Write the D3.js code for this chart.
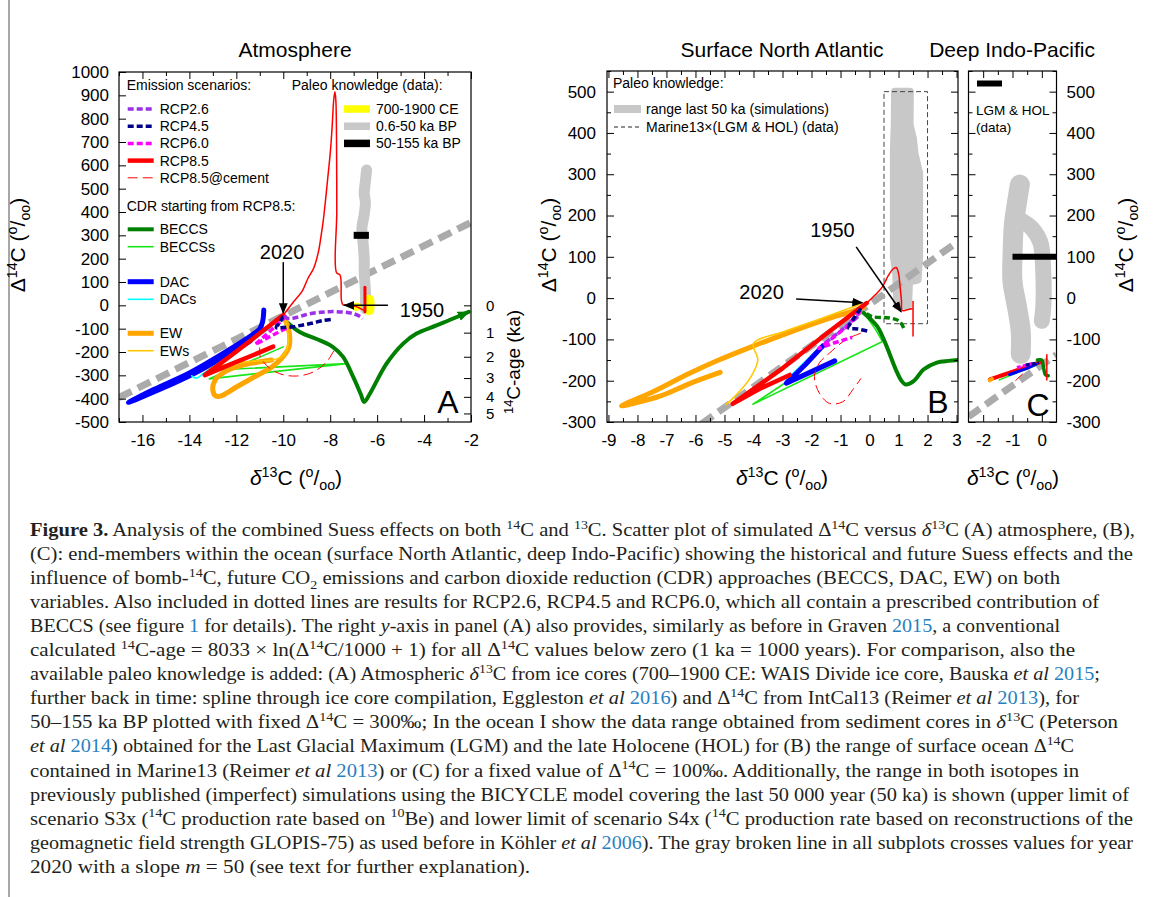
<!DOCTYPE html>
<html>
<head>
<meta charset="utf-8">
<script src="https://cdn.jsdelivr.net/npm/d3@7"></script>
<style>
  body { margin: 0; background: #fff; }
  svg { display: block; font-family: "Liberation Sans", Arial, sans-serif; }
  .cap { font-family: "Liberation Serif", "Times New Roman", serif; font-size: 19.5px; fill: #231f20; }
</style>
</head>
<body>
<script>
// ---------- data: panel A (atmosphere), [d13C, D14C] ----------
const A_xTicks = [-16, -14, -12, -10, -8, -6, -4, -2];
const A_xMinor = [-17, -15, -13, -11, -9, -7, -5, -3];
const A_yTicks = [-500, -400, -300, -200, -100, 0, 100, 200, 300, 400, 500, 600, 700, 800, 900, 1000];
const A_ageTicks = [0, 1, 2, 3, 4, 5];

const A_m50 = [[-17, -395], [-2, 355]];
const A_paleoGray = [[-6.5, -15], [-6.5, 60], [-6.55, 140], [-6.55, 200], [-6.6, 270], [-6.65, 330], [-6.55, 390], [-6.5, 440], [-6.55, 480], [-6.5, 530], [-6.45, 580]];
const A_paleoBlack = [[-7.0, 300], [-6.35, 300]];
const A_paleoYellow = [[-6.35, -18], [-6.35, 22]];
const A_paleoYellow2 = [[-6.9, -6], [-6.85, -6]];
const A_hist = [[-6.55, -22], [-6.9, -5], [-7.2, 3], [-7.45, 2], [-7.52, 20], [-7.58, 130], [-7.73, 140], [-7.72, 400], [-7.73, 700], [-7.76, 880], [-7.8, 915],
  [-7.85, 880], [-7.92, 760], [-8.0, 650], [-8.1, 550], [-8.2, 450], [-8.3, 360], [-8.4, 290], [-8.5, 230], [-8.7, 160], [-8.95, 115], [-9.2, 60], [-9.6, 10], [-10.0, -42]];
const A_histBar = [[-6.52, 78], [-6.52, -28]];
const A_rcp85 = [[-10.0, -42], [-11.0, -120], [-12.0, -198], [-13.34, -299], [-12.2, -251], [-11.3, -214], [-10.43, -177]];
const A_cement = [[-11.0, -180], [-11.0, -214], [-10.72, -257], [-10.15, -293], [-9.44, -303], [-8.73, -286], [-8.16, -243], [-7.8, -186]];
const A_rcp26 = [[-9.95, -45], [-9.85, -55], [-9.58, -55], [-9.2, -45], [-8.87, -36], [-8.4, -30], [-8.0, -27], [-7.45, -29], [-7.0, -36], [-6.7, -50], [-6.62, -58]];
const A_rcp45 = [[-10.0, -45], [-10.15, -75], [-10.3, -95], [-10.0, -95], [-9.6, -92], [-9.2, -85], [-8.8, -77], [-8.3, -65], [-7.9, -60]];
const A_rcp60 = [[-9.85, -45], [-10.5, -105], [-11.2, -168], [-10.5, -130], [-9.8, -95]];
const A_dac = [[-10.83, -20], [-10.88, -70], [-11.0, -100], [-11.3, -125], [-12.3, -190], [-14.0, -290], [-15.5, -360], [-16.6, -416], [-15.3, -362], [-13.8, -292], [-12.5, -218], [-11.4, -152]];
const A_dacs = [[-13.9, -302], [-13.7, -312], [-13.4, -292], [-12.8, -252], [-12.0, -197], [-11.2, -142], [-10.5, -92]];
const A_ew = [[-9.95, -55], [-9.78, -100], [-9.72, -150], [-9.78, -185], [-10.1, -230], [-10.5, -265], [-11.2, -305], [-12.0, -350], [-12.6, -386], [-12.85, -390], [-13.0, -365], [-12.9, -320], [-12.5, -285], [-11.8, -258], [-11.0, -242], [-10.5, -234]];
const A_ews = [[-13.9, -305], [-13.6, -285], [-13.0, -265], [-12.2, -250], [-11.4, -240], [-10.5, -235], [-10.0, -215], [-9.8, -170], [-9.85, -90], [-9.95, -60]];
const A_beccs = [[-9.85, -71], [-9.3, -114], [-8.44, -150], [-7.88, -179], [-7.45, -221], [-7.02, -307], [-6.7, -380], [-6.55, -414], [-6.31, -379], [-5.6, -250], [-4.89, -164], [-4.32, -121], [-3.47, -86], [-2.6, -50], [-2.1, -28]];
const A_beccss = [[-10.0, -178], [-13.15, -315], [-7.3, -250], [-12.7, -276]];

// ---------- data: panel B (surface North Atlantic) ----------
const B_xTicks = [-9, -8, -7, -6, -5, -4, -3, -2, -1, 0, 1, 2, 3];
const B_xMinor = [-8.5, -7.5, -6.5, -5.5, -4.5, -3.5, -2.5, -1.5, -0.5, 0.5, 1.5, 2.5];
const B_yTicks = [-300, -200, -100, 0, 100, 200, 300, 400, 500];
const B_yMinor = [-250, -150, -50, 50, 150, 250, 350, 450, 550];

const B_m50 = [[-5.8, -305], [3.05, 137]];
const B_sim = [[0.88, 500], [1.39, 500], [1.38, 420], [1.5, 385], [1.55, 350], [1.71, 303], [1.71, 100], [1.66, 45], [1.36, 40], [1.33, -18], [0.96, -18], [0.92, 60], [0.84, 100], [0.84, 360], [0.87, 420]];
const B_marine = [[0.5, -62], [2.0, 500]];
const B_ew = [[-0.2, -22], [-0.6, -32], [-1.6, -54], [-2.8, -84], [-4.0, -116], [-5.2, -150], [-6.2, -182], [-7.5, -228], [-8.55, -261], [-8.2, -256], [-7.2, -237], [-6.2, -207], [-5.15, -180]];
const B_ews = [[-0.3, -14], [-1.5, -45], [-3.0, -82], [-4.0, -110], [-3.85, -150], [-4.1, -192], [-4.6, -235], [-4.95, -258]];
const B_rcp85 = [[-0.1, -12], [-1.5, -87], [-3.0, -170], [-4.72, -256], [-3.8, -220], [-2.75, -186]];
const B_hist = [[-0.1, -12], [0.2, 8], [0.45, 28], [0.65, 55], [0.8, 70], [0.92, 74], [1.0, 60], [1.05, 30], [1.1, -5], [1.13, -30], [1.3, -28], [1.47, -26]];
const B_histBar = [[1.5, -8], [1.5, -92]];
const B_cement = [[-0.3, -85], [-0.8, -100], [-1.38, -133], [-1.73, -157], [-1.9, -190], [-1.73, -230], [-1.38, -255], [-0.92, -251], [-0.58, -222], [-0.29, -194]];
const B_beccs = [[-0.2, -36], [0.26, -68], [0.49, -100], [0.72, -140], [0.95, -180], [1.1, -200], [1.24, -209], [1.52, -201], [1.86, -173], [2.32, -156], [2.72, -152], [3.05, -150]];
const B_beccsDash = [[-0.1, -38], [0.1, -45], [0.68, -48], [1.03, -56], [1.2, -76]];
const B_rcp45 = [[-0.3, -25], [-0.55, -50], [-0.72, -72], [-0.4, -75], [0.0, -81]];
const B_rcp60 = [[-0.3, -30], [-0.8, -70], [-1.3, -98], [-1.75, -122], [-1.2, -108], [-0.6, -95]];
const B_rcp26 = [[-0.4, -45], [-1.0, -80], [-1.6, -112]];
const B_dac = [[-1.6, -115], [-2.2, -160], [-2.87, -206], [-2.0, -178], [-1.2, -152]];
const B_dacs = [[-0.6, -55], [-1.7, -118], [-2.9, -200]];
const B_beccss = [[-0.2, -35], [0.2, -75], [0.45, -105], [-4.02, -257], [-2.9, -205]];

// ---------- data: panel C (deep Indo-Pacific) ----------
const C_xTicks = [-2, -1, 0];
const C_xMinor = [-1.5, -0.5];
const C_m50 = [[-2.5, -287], [0.5, -137]];
const C_simLeft = [[-0.75, 275], [-0.85, 230], [-0.95, 180], [-1.0, 100], [-1.0, 40], [-0.85, -20], [-0.72, -80], [-0.72, -135]];
const C_simRight = [[-0.75, 190], [-0.35, 170], [-0.05, 135], [0.05, 60], [0.05, -20], [0.0, -55]];
const C_black = [[-1.0, 100], [0.5, 100]];
const C_beccss = [[-1.45, -198], [-0.1, -160]];
const C_rcp85 = [[-1.77, -197], [-0.05, -155], [-1.4, -188]];
const C_dac = [[-1.1, -185], [-0.5, -170], [-0.2, -160]];
const C_rcp60 = [[-0.85, -168], [-0.3, -158]];
const C_rcp45 = [[-0.55, -162], [-0.1, -156]];
const C_beccs = [[-0.15, -150], [0.0, -150], [0.05, -165], [0.12, -185], [0.22, -188]];
const C_hist = [[0.17, -137], [0.17, -198]];
const C_cement = [[-0.9, -200], [-0.6, -180]];
const C_ew = [[-1.78, -199], [-1.7, -196]];

// ---------- caption ----------
const CAP_LINES = [
  "<b>Figure 3.</b> Analysis of the combined Suess effects on both <sup>14</sup>C and <sup>13</sup>C. Scatter plot of simulated Δ<sup>14</sup>C versus <i>δ</i><sup>13</sup>C (A) atmosphere, (B),",
  "(C): end-members within the ocean (surface North Atlantic, deep Indo-Pacific) showing the historical and future Suess effects and the",
  "influence of bomb-<sup>14</sup>C, future CO<sub>2</sub> emissions and carbon dioxide reduction (CDR) approaches (BECCS, DAC, EW) on both",
  "variables. Also included in dotted lines are results for RCP2.6, RCP4.5 and RCP6.0, which all contain a prescribed contribution of",
  "BECCS (see figure <a>1</a> for details). The right <i>y</i>-axis in panel (A) also provides, similarly as before in Graven <a>2015</a>, a conventional",
  "calculated <sup>14</sup>C-age = 8033 × ln(Δ<sup>14</sup>C/1000 + 1) for all Δ<sup>14</sup>C values below zero (1 ka = 1000 years). For comparison, also the",
  "available paleo knowledge is added: (A) Atmospheric <i>δ</i><sup>13</sup>C from ice cores (700–1900 CE: WAIS Divide ice core, Bauska <i>et al</i> <a>2015</a>;",
  "further back in time: spline through ice core compilation, Eggleston <i>et al</i> <a>2016</a>) and Δ<sup>14</sup>C from IntCal13 (Reimer <i>et al</i> <a>2013</a>), for",
  "50–155 ka BP plotted with fixed Δ<sup>14</sup>C = 300‰; In the ocean I show the data range obtained from sediment cores in <i>δ</i><sup>13</sup>C (Peterson",
  "<i>et al</i> <a>2014</a>) obtained for the Last Glacial Maximum (LGM) and the late Holocene (HOL) for (B) the range of surface ocean Δ<sup>14</sup>C",
  "contained in Marine13 (Reimer <i>et al</i> <a>2013</a>) or (C) for a fixed value of Δ<sup>14</sup>C = 100‰. Additionally, the range in both isotopes in",
  "previously published (imperfect) simulations using the BICYCLE model covering the last 50 000 year (50 ka) is shown (upper limit of",
  "scenario S3x (<sup>14</sup>C production rate based on <sup>10</sup>Be) and lower limit of scenario S4x (<sup>14</sup>C production rate based on reconstructions of the",
  "geomagnetic field strength GLOPIS-75) as used before in Köhler <i>et al</i> <a>2006</a>). The gray broken line in all subplots crosses values for year",
  "2020 with a slope <i>m</i> = 50 (see text for further explanation)."
];
const CAP_END = [1135, 1133, 1060, 1099, 1060, 1075, 1100, 1079, 1118, 1074, 1079, 1129, 1133, 1133, 530];

// ---------- styles ----------
const ST = {
  rcp26: { c: "#9b30e8", w: 3.5, d: "6,3" },
  rcp45: { c: "#00008b", w: 3.5, d: "6,3" },
  rcp60: { c: "#ff00ff", w: 3.5, d: "6,3" },
  rcp85: { c: "#ff0000", w: 4.5 },
  hist: { c: "#ff0000", w: 1.5 },
  histBar: { c: "#ff0000", w: 3 },
  cement: { c: "#ff0000", w: 1, d: "10,5" },
  beccs: { c: "#008000", w: 4 },
  beccsDash: { c: "#008000", w: 3.5, d: "6,3" },
  beccss: { c: "#19e619", w: 1.6 },
  dac: { c: "#0000ff", w: 5 },
  dacs: { c: "#00ffff", w: 1.6 },
  ew: { c: "#ffa500", w: 5 },
  ews: { c: "#ffc800", w: 1.6 },
  m50: { c: "#ababab", w: 7, d: "14,7" },
  gray: { c: "#c8c8c8", w: 11 },
  black: { c: "#000", w: 7 },
  yellow: { c: "#ffff00", w: 11 }
};

const svg = d3.select("body").append("svg").attr("width", 1153).attr("height", 897);
const defs = svg.append("defs");

function marker(id, color, size) {
  defs.append("marker").attr("id", id).attr("viewBox", "0 0 10 10")
    .attr("refX", 9).attr("refY", 5).attr("markerWidth", size).attr("markerHeight", size)
    .attr("markerUnits", "userSpaceOnUse").attr("orient", "auto")
    .append("path").attr("d", "M0,1L10,5L0,9Z").attr("fill", color);
}
marker("arr", "#000", 11);
marker("arrG", "#008000", 12);

// rich text: <sup>, <sub>, <i>, <b>, <a>
function richText(sel, str, fs) {
  const parts = str.split(/(<\/?[a-z]+>)/).filter(s => s !== "");
  const state = {};
  let shift = 0;
  parts.forEach(p => {
    const m = p.match(/^<(\/?)([a-z]+)>$/);
    if (m) { state[m[2]] = !m[1]; return; }
    const t = sel.append("tspan").text(p);
    const target = state.sup ? -0.38 * fs : state.sub ? 0.25 * fs : 0;
    if (target !== shift) { t.attr("dy", target - shift); shift = target; }
    if (state.sup || state.sub) t.attr("font-size", fs * 0.68);
    if (state.i) t.attr("font-style", "italic");
    if (state.b) t.attr("font-weight", "bold");
    if (state.a) t.attr("fill", "#2a7fc0");
  });
  return sel;
}

function drawLine(g, x, y, pts, st, smooth) {
  const line = d3.line().x(d => x(d[0])).y(d => y(d[1]));
  if (smooth) line.curve(d3.curveCatmullRom.alpha(0.5));
  return g.append("path").attr("d", line(pts)).attr("fill", "none")
    .attr("stroke", st.c).attr("stroke-width", st.w)
    .attr("stroke-dasharray", st.d || null)
    .attr("stroke-linejoin", "round").attr("stroke-linecap", st.d ? "butt" : "round");
}

function tickAxis(g, axis, tr, keepLabels, fs) {
  const a = g.append("g").attr("transform", tr).call(axis);
  a.select(".domain").remove();
  a.attr("font-family", null).attr("font-size", fs || 17);
  a.selectAll("line").attr("stroke", "#000");
  a.selectAll("text").attr("fill", "#000");
  if (!keepLabels) a.selectAll("text").remove();
  return a;
}

function plotArea(id, x, y) {
  const [x0, x1] = x.range(), [y1, y0] = y.range();
  defs.append("clipPath").attr("id", id).append("rect")
    .attr("x", x0).attr("y", y0).attr("width", x1 - x0).attr("height", y1 - y0);
  return svg.append("g").attr("clip-path", `url(#${id})`);
}

function frame(x, y) {
  const [x0, x1] = x.range(), [y1, y0] = y.range();
  svg.append("rect").attr("x", x0).attr("y", y0).attr("width", x1 - x0).attr("height", y1 - y0)
    .attr("fill", "none").attr("stroke", "#000").attr("stroke-width", 1.2);
}

function label(x, y, str, fs, rot, anchor) {
  const t = svg.append("text").attr("font-size", fs).attr("text-anchor", anchor || "middle")
    .attr("transform", `translate(${x},${y})` + (rot ? ` rotate(${rot})` : ""));
  return richText(t, str, fs);
}

const fmt = d => String(d);
const dLabel = "Δ<sup>14</sup>C (<sup>o</sup>/<sub>oo</sub>)";
const xLabel = "<i>δ</i><sup>13</sup>C (<sup>o</sup>/<sub>oo</sub>)";

// left page rule
svg.append("line").attr("x1", 9).attr("x2", 9).attr("y1", 0).attr("y2", 897)
  .attr("stroke", "#8a8a8a").attr("stroke-width", 1.5);

// ================= Panel A =================
const xA = d3.scaleLinear([-17, -2], [119, 471]);
const yA = d3.scaleLinear([-500, 1000], [422, 72]);
const ageToD14 = a => 1000 * (Math.exp(-a * 1000 / 8033) - 1);
{
  const g = plotArea("clipA", xA, yA);
  drawLine(g, xA, yA, A_m50, ST.m50);
  drawLine(g, xA, yA, A_paleoGray, ST.gray, true);
  drawLine(g, xA, yA, A_paleoBlack, { c: "#000", w: 7 }).attr("stroke-linecap", "butt");
  drawLine(g, xA, yA, A_paleoYellow, ST.yellow);
  drawLine(g, xA, yA, A_paleoYellow2, { c: "#ffff00", w: 8 });
  drawLine(g, xA, yA, A_beccss, ST.beccss);
  drawLine(g, xA, yA, A_beccs, ST.beccs, true).attr("marker-end", "url(#arrG)");
  drawLine(g, xA, yA, A_ew, ST.ew, true);
  drawLine(g, xA, yA, A_ews, ST.ews, true);
  drawLine(g, xA, yA, A_dac, ST.dac, true);
  drawLine(g, xA, yA, A_dacs, ST.dacs, true);
  drawLine(g, xA, yA, A_cement, ST.cement, true);
  drawLine(g, xA, yA, A_rcp85, ST.rcp85);
  drawLine(g, xA, yA, A_hist, ST.hist, true);
  drawLine(g, xA, yA, A_histBar, ST.histBar);
  drawLine(g, xA, yA, A_rcp60, ST.rcp60);
  drawLine(g, xA, yA, A_rcp45, ST.rcp45, true);
  drawLine(g, xA, yA, A_rcp26, ST.rcp26, true);

  frame(xA, yA);
  tickAxis(svg, d3.axisBottom(xA).tickValues(A_xTicks).tickSize(-7).tickPadding(12).tickFormat(fmt), "translate(0,422)", true);
  tickAxis(svg, d3.axisBottom(xA).tickValues(A_xMinor).tickSize(-4), "translate(0,422)");
  tickAxis(svg, d3.axisTop(xA).tickValues(A_xTicks).tickSize(-7), "translate(0,72)");
  tickAxis(svg, d3.axisTop(xA).tickValues(A_xMinor).tickSize(-4), "translate(0,72)");
  tickAxis(svg, d3.axisLeft(yA).tickValues(A_yTicks).tickSize(-7).tickPadding(10).tickFormat(fmt), "translate(119,0)", true);
  tickAxis(svg, d3.axisRight(yA).tickValues(A_ageTicks.map(ageToD14)).tickSize(-7).tickPadding(15)
    .tickFormat((d, i) => A_ageTicks[i]), "translate(471,0)", true, 15);

  // annotations
  svg.append("line").attr("x1", xA(-10)).attr("y1", yA(185)).attr("x2", xA(-10)).attr("y2", yA(-33))
    .attr("stroke", "#000").attr("stroke-width", 1.5).attr("marker-end", "url(#arr)");
  label(xA(-10.05), yA(228) + 7, "2020", 20);
  svg.append("line").attr("x1", xA(-5.54)).attr("y1", yA(0)).attr("x2", xA(-7.4)).attr("y2", yA(0))
    .attr("stroke", "#000").attr("stroke-width", 1.5).attr("marker-end", "url(#arr)");
  label(xA(-4.09), yA(-20) + 7, "1950", 20);
  label(448, 413, "A", 32);

  // titles and axis labels
  label(295, 57, "Atmosphere", 21);
  label(296, 485, xLabel, 21);
  label(25, 245, dLabel, 21, -90);
  label(520, 362, "<sup>14</sup>C-age (ka)", 19, -90);

  // legend: emission scenarios
  const lg = svg.append("g").attr("font-size", 14);
  lg.append("text").attr("x", 126.7).attr("y", 90).text("Emission scenarios:");
  const leg1 = [["rcp26", "RCP2.6"], ["rcp45", "RCP4.5"], ["rcp60", "RCP6.0"], ["rcp85", "RCP8.5"], ["cement", "RCP8.5@cement"]];
  const leg2 = [["beccs", "BECCS", 229.3], ["beccss", "BECCSs", 246.7], ["dac", "DAC", 281.7], ["dacs", "DACs", 299.3], ["ew", "EW", 333.3], ["ews", "EWs", 350.7]];
  const sample = (k, y, text, x0) => {
    const st = ST[k];
    lg.append("line").attr("x1", x0).attr("x2", x0 + 26).attr("y1", y).attr("y2", y)
      .attr("stroke", st.c).attr("stroke-width", Math.min(st.w, 5)).attr("stroke-dasharray", st.d || null);
    lg.append("text").attr("x", x0 + 32).attr("y", y + 5).text(text);
  };
  leg1.forEach((d, i) => sample(d[0], 109 + i * 17.2, d[1], 127.7));
  lg.append("text").attr("x", 126.7).attr("y", 210.5).text("CDR starting from RCP8.5:");
  leg2.forEach(d => sample(d[0], d[2], d[1], 127.7));
  lg.append("text").attr("x", 291.7).attr("y", 90).text("Paleo knowledge (data):");
  [["yellow", "700-1900 CE"], ["gray", "0.6-50 ka BP"], ["black", "50-155 ka BP"]].forEach((d, i) => {
    const y = 109 + i * 17.2;
    lg.append("line").attr("x1", 344).attr("x2", 370).attr("y1", y).attr("y2", y)
      .attr("stroke", ST[d[0]].c).attr("stroke-width", 7.5);
    lg.append("text").attr("x", 376).attr("y", y + 5).text(d[1]);
  });
}

// ================= Panel B =================
const xB = d3.scaleLinear([-9.05, 3.05], [607, 958]);
const yB = d3.scaleLinear([-300, 550], [422, 71]);
{
  const g = plotArea("clipB", xB, yB);
  g.append("path").attr("d", d3.line().x(d => xB(d[0])).y(d => yB(d[1]))(B_sim) + "Z")
    .attr("fill", "#c8c8c8").attr("stroke", "#c8c8c8").attr("stroke-width", 8).attr("stroke-linejoin", "round");
  g.append("rect").attr("x", xB(B_marine[0][0])).attr("y", yB(B_marine[1][1]))
    .attr("width", xB(B_marine[1][0]) - xB(B_marine[0][0])).attr("height", yB(B_marine[0][1]) - yB(B_marine[1][1]))
    .attr("fill", "none").attr("stroke", "#444").attr("stroke-width", 1).attr("stroke-dasharray", "5,3");
  drawLine(g, xB, yB, B_m50, ST.m50);
  drawLine(g, xB, yB, B_beccss, ST.beccss);
  drawLine(g, xB, yB, B_beccs, ST.beccs, true);
  drawLine(g, xB, yB, B_beccsDash, ST.beccsDash, true);
  drawLine(g, xB, yB, B_ew, ST.ew, true);
  drawLine(g, xB, yB, B_ews, ST.ews, true);
  drawLine(g, xB, yB, B_dacs, ST.dacs);
  drawLine(g, xB, yB, B_dac, ST.dac);
  drawLine(g, xB, yB, B_cement, ST.cement, true);
  drawLine(g, xB, yB, B_rcp85, ST.rcp85);
  drawLine(g, xB, yB, B_hist, ST.hist, true);
  drawLine(g, xB, yB, B_histBar, ST.hist);
  drawLine(g, xB, yB, B_rcp26, ST.rcp26);
  drawLine(g, xB, yB, B_rcp60, ST.rcp60);
  drawLine(g, xB, yB, B_rcp45, ST.rcp45, true);

  frame(xB, yB);
  tickAxis(svg, d3.axisBottom(xB).tickValues(B_xTicks).tickSize(-7).tickPadding(12).tickFormat(fmt), "translate(0,422)", true);
  tickAxis(svg, d3.axisBottom(xB).tickValues(B_xMinor).tickSize(-4), "translate(0,422)");
  tickAxis(svg, d3.axisTop(xB).tickValues(B_xTicks).tickSize(-7), "translate(0,71)");
  tickAxis(svg, d3.axisTop(xB).tickValues(B_xMinor).tickSize(-4), "translate(0,71)");
  tickAxis(svg, d3.axisLeft(yB).tickValues(B_yTicks).tickSize(-7).tickPadding(11).tickFormat(fmt), "translate(607,0)", true);
  tickAxis(svg, d3.axisLeft(yB).tickValues(B_yMinor).tickSize(-4), "translate(607,0)");
  tickAxis(svg, d3.axisRight(yB).tickValues(B_yTicks).tickSize(-7), "translate(958,0)");
  tickAxis(svg, d3.axisRight(yB).tickValues(B_yMinor).tickSize(-4), "translate(958,0)");

  svg.append("line").attr("x1", xB(-0.46)).attr("y1", yB(124)).attr("x2", xB(1.09)).attr("y2", yB(-33))
    .attr("stroke", "#000").attr("stroke-width", 1.5).attr("marker-end", "url(#arr)");
  label(xB(-1.28), yB(166) + 7, "1950", 20);
  svg.append("line").attr("x1", xB(-2.53)).attr("y1", yB(-2)).attr("x2", xB(-0.25)).attr("y2", yB(-11))
    .attr("stroke", "#000").attr("stroke-width", 1.5).attr("marker-end", "url(#arr)");
  label(xB(-3.72), yB(15) + 7, "2020", 20);
  label(938, 413, "B", 32);

  label(782, 57, "Surface North Atlantic", 21);
  label(782, 485, xLabel, 21);
  label(556, 245, dLabel, 21, -90);

  const lg = svg.append("g").attr("font-size", 14);
  lg.append("text").attr("x", 613).attr("y", 88).text("Paleo knowledge:");
  lg.append("line").attr("x1", 614).attr("x2", 641).attr("y1", 109).attr("y2", 109).attr("stroke", "#c8c8c8").attr("stroke-width", 8);
  lg.append("text").attr("x", 646).attr("y", 114).text("range last 50 ka (simulations)");
  lg.append("line").attr("x1", 614).attr("x2", 641).attr("y1", 127).attr("y2", 127).attr("stroke", "#222").attr("stroke-width", 1).attr("stroke-dasharray", "4,3");
  lg.append("text").attr("x", 646).attr("y", 132).text("Marine13×(LGM & HOL) (data)");
}

// ================= Panel C =================
const xC = d3.scaleLinear([-2.5, 0.5], [968.5, 1056.5]);
const yC = yB;
{
  const g = plotArea("clipC", xC, yC);
  drawLine(g, xC, yC, C_simLeft, { c: "#c8c8c8", w: 20 }, true);
  drawLine(g, xC, yC, C_simRight, { c: "#c8c8c8", w: 16 }, true);
  drawLine(g, xC, yC, C_black, { c: "#000", w: 6 }).attr("stroke-linecap", "butt");
  drawLine(g, xC, yC, C_m50, ST.m50);
  drawLine(g, xC, yC, C_beccss, ST.beccss);
  drawLine(g, xC, yC, C_rcp85, { c: "#ff0000", w: 4 });
  drawLine(g, xC, yC, C_ew, { c: "#ffa500", w: 4 });
  drawLine(g, xC, yC, C_dac, { c: "#0000ff", w: 3 });
  drawLine(g, xC, yC, C_rcp60, { c: "#ff00ff", w: 3, d: "4,2" });
  drawLine(g, xC, yC, C_rcp45, { c: "#00008b", w: 3, d: "4,2" });
  drawLine(g, xC, yC, C_beccs, { c: "#008000", w: 3.5 }, true);
  drawLine(g, xC, yC, C_hist, ST.hist);
  drawLine(g, xC, yC, C_cement, ST.cement);

  frame(xC, yC);
  tickAxis(svg, d3.axisBottom(xC).tickValues(C_xTicks).tickSize(-7).tickPadding(12).tickFormat(fmt), "translate(0,422)", true);
  tickAxis(svg, d3.axisBottom(xC).tickValues(C_xMinor).tickSize(-4), "translate(0,422)");
  tickAxis(svg, d3.axisTop(xC).tickValues(C_xTicks).tickSize(-7), "translate(0,71)");
  tickAxis(svg, d3.axisTop(xC).tickValues(C_xMinor).tickSize(-4), "translate(0,71)");
  tickAxis(svg, d3.axisRight(yC).tickValues(B_yTicks).tickSize(-7).tickPadding(10).tickFormat(fmt), "translate(1056.5,0)", true);
  tickAxis(svg, d3.axisRight(yC).tickValues(B_yMinor).tickSize(-4), "translate(1056.5,0)");
  tickAxis(svg, d3.axisLeft(yC).tickValues(B_yTicks).tickSize(-7), "translate(968.5,0)");
  tickAxis(svg, d3.axisLeft(yC).tickValues(B_yMinor).tickSize(-4), "translate(968.5,0)");

  label(1038, 416, "C", 32);
  label(1012, 57, "Deep Indo-Pacific", 21);
  label(1013, 485, xLabel, 21);
  label(1133, 245, dLabel, 21, -90);

  const lg = svg.append("g").attr("font-size", 13.5);
  lg.append("line").attr("x1", 977).attr("x2", 1002).attr("y1", 83.5).attr("y2", 83.5).attr("stroke", "#000").attr("stroke-width", 6);
  lg.append("text").attr("x", 976).attr("y", 115).text("LGM & HOL");
  lg.append("text").attr("x", 976).attr("y", 132).text("(data)");
}

// ================= caption =================
const cap = svg.append("g").attr("class", "cap");
CAP_LINES.forEach((s, i) => {
  const t = cap.append("text").attr("x", 30).attr("y", 536 + i * 24.05);
  richText(t, s, 19.5);
  t.attr("textLength", CAP_END[i] - 30).attr("lengthAdjust", "spacingAndGlyphs");
});
</script>
</body>
</html>
